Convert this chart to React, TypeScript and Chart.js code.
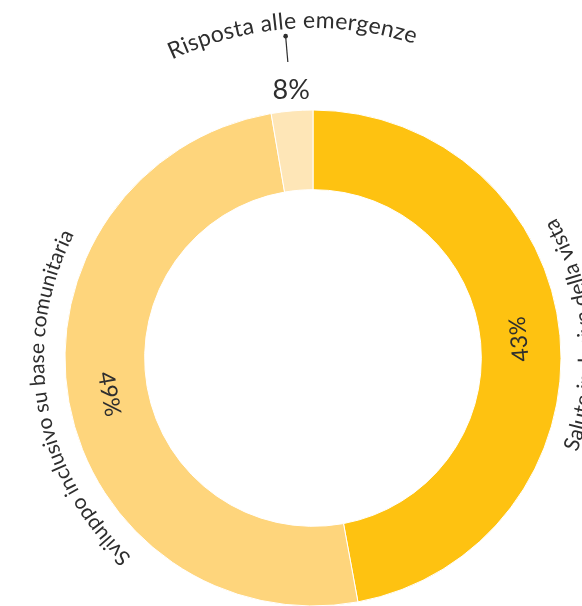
import React, { useEffect, useRef } from "react";
import { Chart, registerables } from "chart.js";

Chart.register(...registerables);

// ---- data ----
const categories = [
  "Salute inclusiva della vista",
  "Sviluppo inclusivo su base comunitaria",
  "Risposta alle emergenze",
];
const sliceShares = [47.1, 50.2, 2.7];
const percentLabels = ["43%", "49%", "8%"];
const sliceColors = ["#FEC211", "#FED57C", "#FEE6B7"];

const FONT_FAMILY = "Lato, 'Noto Sans', sans-serif";
const TEXT_COLOR = "#2e2e2e";

function drawArcText(
  ctx: CanvasRenderingContext2D,
  text: string,
  cx: number,
  cy: number,
  r: number,
  mid: number,
  dir: number,
  font: string,
  spacing: number
) {
  ctx.save();
  ctx.font = font;
  ctx.fillStyle = TEXT_COLOR;
  ctx.textAlign = "center";
  ctx.textBaseline = "alphabetic";
  const chars = [...text];
  const offsets: number[] = [];
  for (let i = 0; i <= chars.length; i++) {
    offsets.push(ctx.measureText(chars.slice(0, i).join("")).width + i * spacing);
  }
  const total = offsets[chars.length] - spacing;
  const start = mid - (dir * total) / (2 * r);
  for (let i = 0; i < chars.length; i++) {
    const w = offsets[i + 1] - spacing - offsets[i];
    const centre = offsets[i] + w / 2;
    const a = start + (dir * centre) / r;
    ctx.save();
    ctx.translate(cx + r * Math.cos(a), cy + r * Math.sin(a));
    ctx.rotate(a + (dir * Math.PI) / 2);
    ctx.fillText(chars[i], 0, 0);
    ctx.restore();
  }
  ctx.restore();
}

const labelPlugin = {
  id: "arcLabels",
  afterDatasetsDraw(chart: any) {
    const ctx: CanvasRenderingContext2D = chart.ctx;
    const meta = chart.getDatasetMeta(0);
    meta.data.forEach((arc: any, i: number) => {
      const { x, y, startAngle, endAngle, innerRadius, outerRadius } = arc;
      const mid = (startAngle + endAngle) / 2;
      const small = endAngle - startAngle < 0.3;
      // percentage
      ctx.save();
      ctx.fillStyle = TEXT_COLOR;
      ctx.textAlign = "center";
      ctx.textBaseline = "middle";
      if (!small) {
        const rr = (innerRadius + outerRadius) / 2 - 2;
        ctx.font = `400 23px ${FONT_FAMILY}`;
        ctx.translate(x + rr * Math.cos(mid), y + rr * Math.sin(mid));
        ctx.rotate(mid - Math.PI / 2);
        ctx.fillText(percentLabels[i], 0, 1);
      } else {
        const rr = outerRadius + 22;
        ctx.font = `400 27px ${FONT_FAMILY}`;
        ctx.fillText(percentLabels[i], x + rr * Math.cos(mid) + 1, y + rr * Math.sin(mid) + 1);
        // leader line
        const r1 = outerRadius + 49;
        const r2 = outerRadius + 75;
        ctx.strokeStyle = TEXT_COLOR;
        ctx.lineWidth = 1.2;
        ctx.beginPath();
        ctx.moveTo(x + r1 * Math.cos(mid), y + r1 * Math.sin(mid));
        ctx.lineTo(x + r2 * Math.cos(mid), y + r2 * Math.sin(mid));
        ctx.stroke();
        ctx.beginPath();
        ctx.arc(x + r2 * Math.cos(mid), y + r2 * Math.sin(mid), 2.3, 0, Math.PI * 2);
        ctx.fill();
      }
      ctx.restore();
      // category label along the arc
      const norm = ((mid % (2 * Math.PI)) + 2 * Math.PI) % (2 * Math.PI);
      const rightSide = norm < Math.PI / 2 + 0.3 || norm > 1.5 * Math.PI + 0.6;
      if (small) {
        drawArcText(ctx, categories[i], x, y, outerRadius + 82, mid + 0.02, 1, `400 23px ${FONT_FAMILY}`, 0.3);
      } else if (rightSide) {
        drawArcText(ctx, categories[i], x, y, outerRadius + 32.5, mid, -1, `400 21.5px ${FONT_FAMILY}`, 0);
      } else {
        drawArcText(ctx, categories[i], x, y, outerRadius + 21, mid, 1, `400 21px ${FONT_FAMILY}`, 0);
      }
    });
  },
};

export default function App() {
  const ref = useRef<HTMLCanvasElement | null>(null);
  useEffect(() => {
    if (!ref.current) return;
    const chart = new Chart(ref.current, {
      type: "doughnut",
      data: {
        labels: categories,
        datasets: [
          {
            data: sliceShares,
            backgroundColor: sliceColors,
            borderColor: "#ffffff",
            borderWidth: 1,
            hoverOffset: 0,
            offset: 0,
          },
        ],
      },
      options: {
        animation: false,
        responsive: false,
        maintainAspectRatio: false,
        radius: 248,
        cutout: 168,
        layout: { padding: { left: 65, right: 21, top: 110, bottom: 0 } },
        plugins: {
          legend: { display: false },
          tooltip: { enabled: false },
        },
        events: [],
      } as any,
      plugins: [labelPlugin],
    });
    return () => chart.destroy();
  }, []);
  return (
    <div style={{ position: "fixed", left: 0, top: 0, width: 582, height: 606, background: "#fff" }}>
      <canvas ref={ref} width={582} height={606} style={{ display: "block", width: 582, height: 606 }} />
    </div>
  );
}
